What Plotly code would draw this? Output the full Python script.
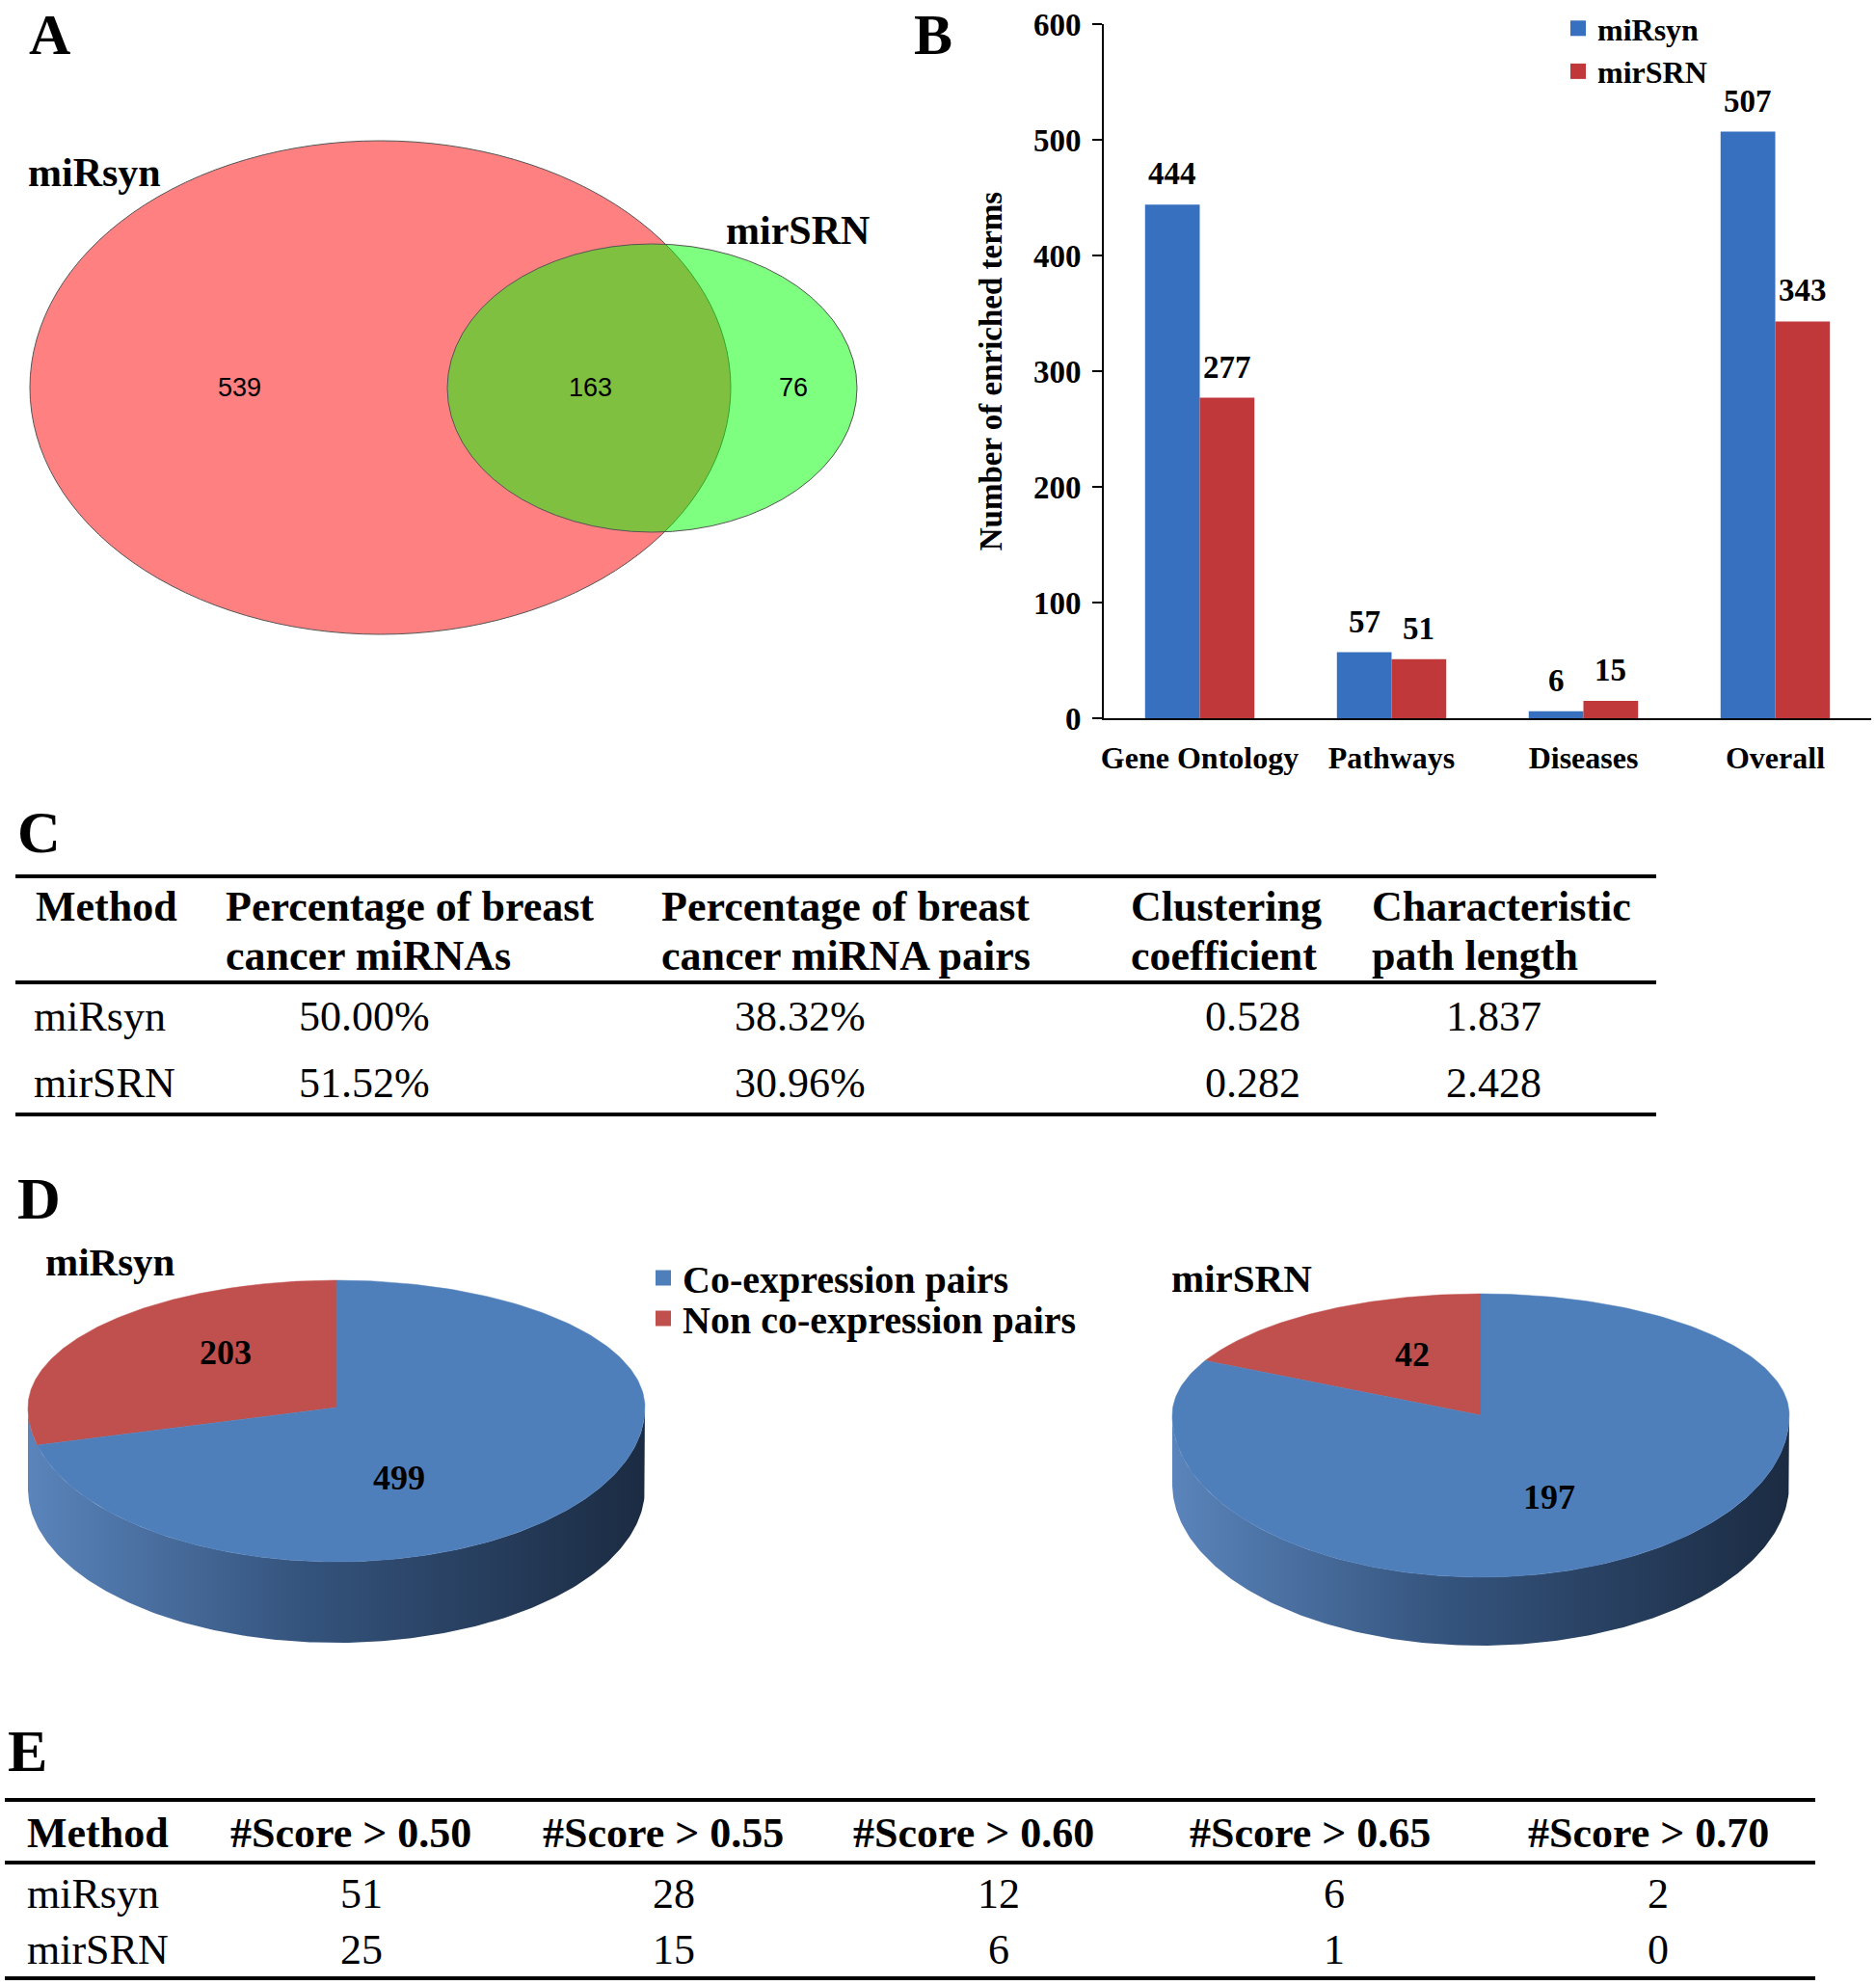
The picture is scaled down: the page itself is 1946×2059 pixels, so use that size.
import numpy as np
import plotly.graph_objects as go

W, H = 1946, 2059
SERIF = "Liberation Serif, Times New Roman, serif"
SANS = "Liberation Sans, Arial, sans-serif"

# ---------------- data ----------------
# Panel A (Venn)
venn_sets = ["miRsyn", "mirSRN"]
venn_counts = [539, 163, 76]          # only miRsyn, both, only mirSRN

# Panel B (bars)
bar_categories = ["Gene Ontology", "Pathways", "Diseases", "Overall"]
bar_series = ["miRsyn", "mirSRN"]
bar_mirsyn = [444, 57, 6, 507]
bar_mirsrn = [277, 51, 15, 343]
bar_yticks = [0, 100, 200, 300, 400, 500, 600]
bar_ytitle = "Number of enriched terms"

# Panel C (table)
c_header_l1 = ["Method", "Percentage of breast", "Percentage of breast", "Clustering", "Characteristic"]
c_header_l2 = ["", "cancer miRNAs", "cancer miRNA pairs", "coefficient", "path length"]
c_methods = ["miRsyn", "mirSRN"]
c_pct_mirnas = ["50.00%", "51.52%"]
c_pct_pairs = ["38.32%", "30.96%"]
c_clustering = ["0.528", "0.282"]
c_path_length = ["1.837", "2.428"]

# Panel D (pies)
pie_titles = ["miRsyn", "mirSRN"]
pie_labels = ["Co-expression pairs", "Non co-expression pairs"]
pie_coexpression = [499, 197]
pie_non_coexpression = [203, 42]

# Panel E (table)
e_header = ["Method", "#Score > 0.50", "#Score > 0.55", "#Score > 0.60", "#Score > 0.65", "#Score > 0.70"]
e_methods = ["miRsyn", "mirSRN"]
e_mirsyn = [51, 28, 12, 6, 2]
e_mirsrn = [25, 15, 6, 1, 0]

# ---------------- styles ----------------
BLUE_BAR = "#3670bf"
RED_BAR = "#c0383a"
PIE_BLUE = "#4f7fbb"
PIE_RED = "#c0504d"

fig = go.Figure()
ann = []
shapes = []


def txt(x, y, s, size, bold=False, family=SERIF, xanchor="center", yanchor="middle", color="black"):
    ann.append(dict(x=x, y=y, xref="x2", yref="y2", text=(f"<b>{s}</b>" if bold else s),
                    showarrow=False, xanchor=xanchor, yanchor=yanchor,
                    font=dict(family=family, size=size, color=color)))


# ---------------- Panel B: bars ----------------
fig.add_trace(go.Bar(x=bar_categories, y=bar_mirsyn, name=bar_series[0], marker_color=BLUE_BAR,
                     marker_line_width=0, xaxis="x", yaxis="y", showlegend=False))
fig.add_trace(go.Bar(x=bar_categories, y=bar_mirsrn, name=bar_series[1], marker_color=RED_BAR,
                     marker_line_width=0, xaxis="x", yaxis="y", showlegend=False))
for name, c in zip(bar_series, [BLUE_BAR, RED_BAR]):
    fig.add_trace(go.Scatter(x=[None], y=[None], mode="markers", name=name,
                             marker=dict(symbol="square", size=17, color=c),
                             xaxis="x", yaxis="y", legend="legend"))
BARGAP = 0.43
off = (1 - BARGAP) / 4
for i, (a, b) in enumerate(zip(bar_mirsyn, bar_mirsrn)):
    for val, dx in ((a, -off), (b, off)):
        ann.append(dict(x=i + dx, y=val, xref="x", yref="y", text=f"<b>{val}</b>", showarrow=False,
                        yanchor="bottom", yshift=12, font=dict(family=SERIF, size=33, color="black")))

# ---------------- Panel A: Venn ----------------
shapes.append(dict(type="circle", xref="x2", yref="y2", x0=31, x1=758, y0=146, y1=658,
                   fillcolor="#ff8080", line=dict(color="#555555", width=1), layer="below"))
shapes.append(dict(type="circle", xref="x2", yref="y2", x0=464, x1=889, y0=253, y1=552,
                   fillcolor="rgba(0,255,0,0.5)", line=dict(color="#555555", width=1), layer="below"))
txt(27, 179, venn_sets[0], 42, bold=True, xanchor="left")
txt(827, 239, venn_sets[1], 42, bold=True)
for (x, v) in zip([248, 612, 823], venn_counts):
    txt(x, 402, str(v), 27, family=SANS)

# ---------------- Panel D: 3D-looking pies ----------------
# cx, cy = apex of slices; separate radii for back (top) and front (bottom) halves (perspective)
pie_geom = [dict(cx=349, cy=1460, rx=320, ry_top=132, ry_bot=160, depth=84),
            dict(cx=1536, cy=1468, rx=320, ry_top=126, ry_bot=168, depth=71)]
side_scale = [[0, "#5a84bb"], [0.45, "#34537c"], [1, "#1b2b42"]]
label_turn = [(-12, 0.56), (-28, 0.5)]


def ell(g, t, dy=0.0):
    t = np.radians(np.asarray(t, dtype=float))
    s = np.sin(t)
    ry = np.where(s >= 0, g["ry_top"], g["ry_bot"])
    return g["cx"] + g["rx"] * np.cos(t), g["cy"] - ry * s + dy


for k, g in enumerate(pie_geom):
    vals = [pie_non_coexpression[k], pie_coexpression[k]]
    cols = [PIE_RED, PIE_BLUE]
    total = sum(vals)
    start = 90.0
    spans = []
    for v in vals:
        end = start + 360.0 * v / total
        spans.append((start, end))
        start = end
    # cylinder wall (front half)
    t = np.linspace(180, 360, 200)
    xt, yt = ell(g, t)
    xb, yb = ell(g, t[::-1], g["depth"])
    xs = np.concatenate([xt, xb, xt[:1]])
    ys = np.concatenate([yt, yb, yt[:1]])
    fig.add_trace(go.Scatter(x=xs, y=ys, mode="lines", fill="toself", line=dict(width=0),
                             fillgradient=dict(type="horizontal", colorscale=side_scale),
                             xaxis="x2", yaxis="y2", showlegend=False, hoverinfo="skip"))
    # top faces
    for (a0, a1), c in zip(spans, cols):
        t = np.linspace(a0, a1, 240)
        xe, ye = ell(g, t)
        xs = np.concatenate([[g["cx"]], xe, [g["cx"]]])
        ys = np.concatenate([[g["cy"]], ye, [g["cy"]]])
        fig.add_trace(go.Scatter(x=xs, y=ys, mode="lines", fill="toself", fillcolor=c,
                                 line=dict(width=0.5, color=c), xaxis="x2", yaxis="y2",
                                 showlegend=False, hoverinfo="skip"))
    # value labels
    for j, ((a0, a1), v) in enumerate(zip(spans, vals)):
        turn, rad = label_turn[j] if k == 0 else (-8, 0.55)
        mid = (a0 + a1) / 2 + turn
        lx, ly = ell(g, [mid])
        lx = g["cx"] + rad * (lx[0] - g["cx"])
        ly = g["cy"] + rad * (ly[0] - g["cy"])
        txt(lx, ly, str(v), 36, bold=True)

# pie legend entries (one legend per entry for exact row spacing)
for name, c, lg in zip(pie_labels, [PIE_BLUE, PIE_RED], ["legend2", "legend3"]):
    fig.add_trace(go.Scatter(x=[None], y=[None], mode="markers", name=name,
                             marker=dict(symbol="square", size=17, color=c),
                             xaxis="x2", yaxis="y2", legend=lg))

txt(45, 1309, pie_titles[0], 41, bold=True, xanchor="left")
txt(1213, 1326, pie_titles[1], 41, bold=True, xanchor="left")

# ---------------- Panel letters ----------------
for letter, x, y in [("A", 28, 1), ("B", 946, 1)]:
    txt(x, y, letter, 60, bold=True, xanchor="left", yanchor="top")
for letter, x, y in [("C", 16, 863), ("D", 16, 1243), ("E", 6, 1816)]:
    txt(x, y, letter, 62, bold=True, xanchor="left")

# ---------------- Panel C table ----------------
TF = 44
for y in (909, 1019, 1156):
    shapes.append(dict(type="line", xref="x2", yref="y2", x0=16, x1=1718, y0=y, y1=y,
                       line=dict(color="black", width=4)))
c_left = [35, 232, 684, 1171, 1421]
for xl, l1, l2 in zip(c_left, c_header_l1, c_header_l2):
    txt(xl, 940, l1, TF, bold=True, xanchor="left")
    if l2:
        txt(xl, 991, l2, TF, bold=True, xanchor="left")
for r, yy in enumerate((1054, 1123)):
    txt(33, yy, c_methods[r], TF, xanchor="left")
    txt(378, yy, c_pct_mirnas[r], TF)
    txt(830, yy, c_pct_pairs[r], TF)
    txt(1299, yy, c_clustering[r], TF)
    txt(1549, yy, c_path_length[r], TF)

# ---------------- Panel E table ----------------
for y in (1867, 1932, 2052):
    shapes.append(dict(type="line", xref="x2", yref="y2", x0=5, x1=1883, y0=y, y1=y,
                       line=dict(color="black", width=4)))
e_hx = [26, 364, 688, 1010, 1359, 1710]
e_vx = [375, 699, 1036, 1384, 1720]
txt(e_hx[0], 1901, e_header[0], TF, bold=True, xanchor="left")
for x, h in zip(e_hx[1:], e_header[1:]):
    txt(x, 1901, h.replace(">", "&gt;"), TF, bold=True)
for yy, m, row in zip((1964, 2022), e_methods, (e_mirsyn, e_mirsrn)):
    txt(26, yy, m, TF, xanchor="left")
    for x, v in zip(e_vx, row):
        txt(x, yy, str(v), TF)

# ---------------- layout ----------------
leg_common = dict(xanchor="left", yanchor="top", bgcolor="rgba(0,0,0,0)", tracegroupgap=0, itemwidth=30)
fig.update_layout(
    width=W, height=H, margin=dict(l=0, r=0, t=0, b=0, autoexpand=False),
    paper_bgcolor="white", plot_bgcolor="rgba(0,0,0,0)",
    barmode="group", bargap=BARGAP, bargroupgap=0,
    xaxis=dict(domain=[1145 / W, 1941 / W], anchor="y", showline=True, linecolor="black", linewidth=2,
               ticks="", showgrid=False, zeroline=False, range=[-0.5, 3.5], ticklabelstandoff=12,
               tickfont=dict(family=SERIF, size=32, color="black", weight="bold")),
    yaxis=dict(domain=[1 - 745 / H, 1 - 25 / H], anchor="x", range=[0, 600], tickvals=bar_yticks,
               showline=True, linecolor="black", linewidth=2, ticks="outside", ticklen=10, tickwidth=2,
               tickcolor="black", showgrid=False, zeroline=False, ticklabelstandoff=5,
               tickfont=dict(family=SERIF, size=33, color="black", weight="bold"),
               title=dict(text=bar_ytitle, standoff=22,
                          font=dict(family=SERIF, size=33, color="black", weight="bold"))),
    xaxis2=dict(domain=[0, 1], anchor="y2", range=[0, W], visible=False, fixedrange=True),
    yaxis2=dict(domain=[0, 1], anchor="x2", range=[H, 0], visible=False, fixedrange=True),
    legend=dict(x=1617 / W, y=1 - 2 / H, font=dict(family=SERIF, size=32, color="black", weight="bold"),
                **leg_common),
    legend2=dict(x=668 / W, y=1 - 1293 / H, font=dict(family=SERIF, size=40, color="black", weight="bold"),
                 **leg_common),
    legend3=dict(x=668 / W, y=1 - 1335 / H, font=dict(family=SERIF, size=40, color="black", weight="bold"),
                 **leg_common),
    annotations=ann, shapes=shapes,
)

fig.write_html("out.html", config={"displayModeBar": False},
               post_script="document.body.style.margin='0';document.body.style.padding='0';"
                           "document.documentElement.style.overflow='hidden';")
